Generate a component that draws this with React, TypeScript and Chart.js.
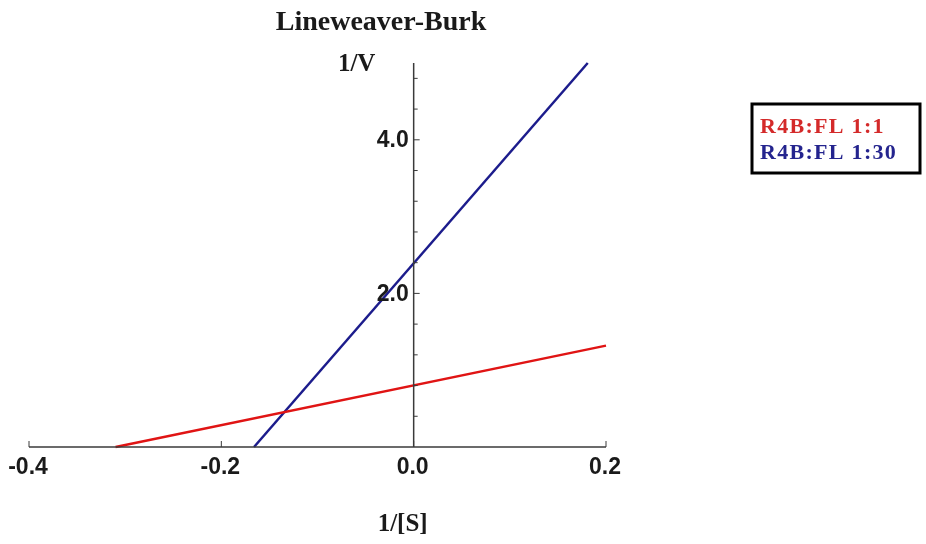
import React, { useEffect, useRef } from "react";
import { Chart, registerables } from "chart.js";

Chart.register(...registerables);

const titleText = "Lineweaver-Burk";
const xAxisTitle = "1/[S]";
const yAxisTitle = "1/V";

const xTickValues = [-0.4, -0.2, 0.0, 0.2];
const xTickLabels = ["-0.4", "-0.2", "0.0", "0.2"];
const yTickValues = [2.0, 4.0];
const yTickLabels = ["2.0", "4.0"];
const yMinorTicks = [0.4, 0.8, 1.2, 1.6, 2.4, 2.8, 3.2, 3.6, 4.4, 4.8];

const seriesNames = ["R4B:FL 1:1", "R4B:FL 1:30"];
const redX = [-0.31, 0.2];
const redY = [0, 1.32];
const blueX = [-0.166, 0.181];
const blueY = [0, 5.0];

const RED = "#e01414";
const BLUE = "#1c1c8c";
const RED_TEXT = "#d42a2a";
const BLUE_TEXT = "#24248e";

const decorPlugin = {
  id: "decor",
  afterDatasetsDraw(chart: any) {
    const ctx = chart.ctx;
    const xs = chart.scales.x;
    const ys = chart.scales.y;
    const x0 = xs.getPixelForValue(0);
    const y0 = ys.getPixelForValue(0);
    const xl = xs.getPixelForValue(-0.4);
    const xr = xs.getPixelForValue(0.2);
    const yt = ys.getPixelForValue(5.0);
    ctx.save();
    ctx.strokeStyle = "#3a3a3a";
    ctx.lineWidth = 1.5;
    ctx.beginPath();
    ctx.moveTo(xl, y0);
    ctx.lineTo(xr, y0);
    ctx.stroke();
    ctx.beginPath();
    ctx.moveTo(x0, y0);
    ctx.lineTo(x0, yt);
    ctx.stroke();
    ctx.lineWidth = 1;
    xTickValues.forEach((v) => {
      const px = xs.getPixelForValue(v);
      ctx.beginPath();
      ctx.moveTo(px, y0);
      ctx.lineTo(px, y0 - 6);
      ctx.stroke();
    });
    yTickValues.forEach((v) => {
      const py = ys.getPixelForValue(v);
      ctx.beginPath();
      ctx.moveTo(x0, py);
      ctx.lineTo(x0 + 6, py);
      ctx.stroke();
    });
    yMinorTicks.forEach((v) => {
      const py = ys.getPixelForValue(v);
      ctx.beginPath();
      ctx.moveTo(x0, py);
      ctx.lineTo(x0 + 4, py);
      ctx.stroke();
    });
    ctx.fillStyle = "#1a1a1a";
    ctx.font = "bold 23px 'Liberation Sans', Arial, sans-serif";
    ctx.textAlign = "center";
    ctx.textBaseline = "alphabetic";
    xTickValues.forEach((v, i) => {
      const px = xs.getPixelForValue(v);
      ctx.fillText(xTickLabels[i], px - 1, y0 + 27);
    });
    ctx.textAlign = "right";
    ctx.textBaseline = "middle";
    yTickValues.forEach((v, i) => {
      const py = ys.getPixelForValue(v);
      ctx.fillText(yTickLabels[i], x0 - 5, py + 1);
    });
    ctx.textBaseline = "alphabetic";
    ctx.textAlign = "center";
    ctx.font = "bold 28px 'Liberation Serif', 'Times New Roman', serif";
    ctx.fillText(titleText, 381, 30);
    ctx.font = "bold 25px 'Liberation Serif', 'Times New Roman', serif";
    ctx.fillText(yAxisTitle, x0 - 57, 71);
    ctx.fillText(xAxisTitle, x0 - 11, 531);
    const bx = 752, by = 104, bw = 168, bh = 69;
    ctx.fillStyle = "#ffffff";
    ctx.fillRect(bx, by, bw, bh);
    ctx.strokeStyle = "#000000";
    ctx.lineWidth = 3;
    ctx.strokeRect(bx, by, bw, bh);
    ctx.font = "bold 22px 'Liberation Serif', 'Times New Roman', serif";
    ctx.textAlign = "left";
    (ctx as any).letterSpacing = "1.3px";
    ctx.fillStyle = RED_TEXT;
    ctx.fillText(seriesNames[0], 760, 133);
    ctx.fillStyle = BLUE_TEXT;
    ctx.fillText(seriesNames[1], 760, 159);
    (ctx as any).letterSpacing = "0px";
    ctx.restore();
  },
};

export default function App() {
  const ref = useRef<HTMLCanvasElement | null>(null);
  useEffect(() => {
    if (!ref.current) return;
    const chart = new Chart(ref.current, {
      type: "scatter",
      data: {
        datasets: [
          {
            label: seriesNames[0],
            data: redX.map((x, i) => ({ x, y: redY[i] })),
            showLine: true,
            borderColor: RED,
            borderWidth: 2.5,
            pointRadius: 0,
            clip: false,
          },
          {
            label: seriesNames[1],
            data: blueX.map((x, i) => ({ x, y: blueY[i] })),
            showLine: true,
            borderColor: BLUE,
            borderWidth: 2.5,
            pointRadius: 0,
            clip: false,
          },
        ],
      },
      options: {
        responsive: false,
        animation: false,
        layout: { padding: { left: 29, right: 320, top: 63, bottom: 97 } },
        plugins: { legend: { display: false }, tooltip: { enabled: false }, title: { display: false } },
        scales: {
          x: { type: "linear", min: -0.4, max: 0.2, display: false },
          y: { type: "linear", min: 0, max: 5.0, display: false },
        },
      },
      plugins: [decorPlugin],
    });
    return () => chart.destroy();
  }, []);
  return (
    <div style={{ position: "absolute", left: 0, top: 0, width: 926, height: 544, background: "#fff" }}>
      <canvas ref={ref} width={926} height={544} style={{ width: 926, height: 544 }} />
    </div>
  );
}
